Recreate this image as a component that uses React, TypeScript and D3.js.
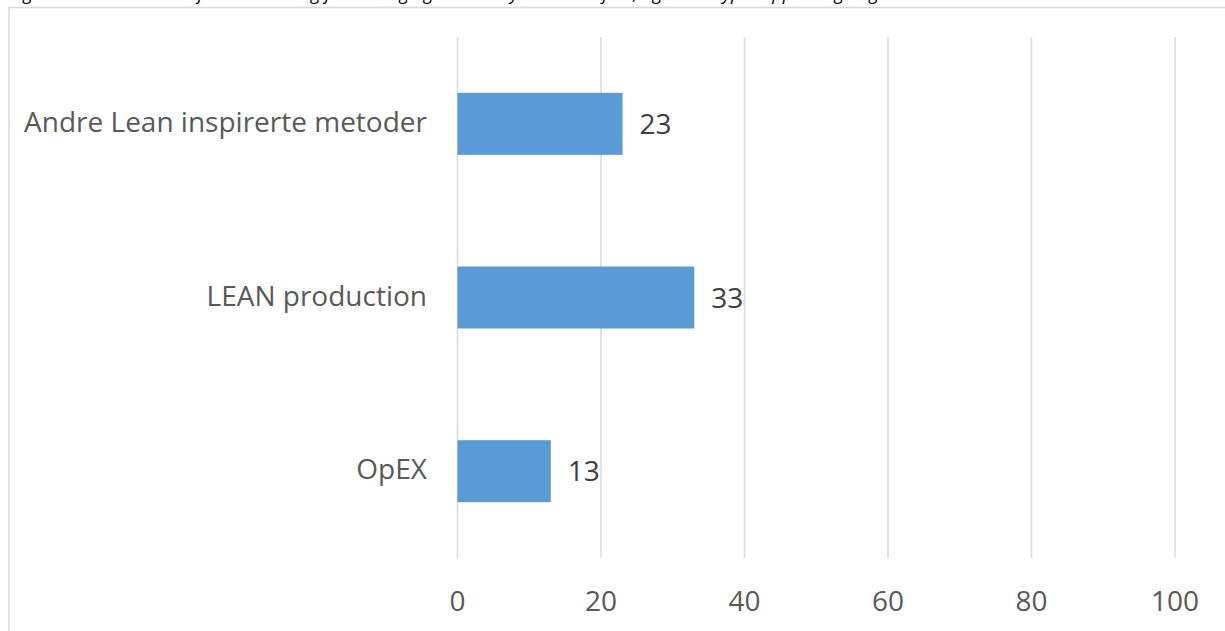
import React from 'react';
import * as d3 from 'd3';

// chart data
const categories = ['Andre Lean inspirerte metoder', 'LEAN production', 'OpEX'];
const values = [23, 33, 13];
const xTicks = [0, 20, 40, 60, 80, 100];
const caption = 'Figur 5: Hvilke metoder for kontinuerlig forbedring og Lean benyttes i bedriften, og hvilke typer opplæring er gitt';

const App = () => {
  const width = 1225;
  const height = 631;
  const margin = { top: 37, right: 50, bottom: 73, left: 457.5 };

  const x = d3.scaleLinear().domain([0, 100]).range([margin.left, width - margin.right]);
  const y = d3.scaleBand().domain(categories).range([margin.top, height - margin.bottom]).paddingInner(0.643).paddingOuter(0.3215);

  const font = '"Open Sans", "Noto Sans", sans-serif';
  const fs = 28;

  return (
    <svg width={width} height={height} style={{ position: 'absolute', left: 0, top: 0, background: '#fff' }}>
      {/* caption, cut off at the top like in the source */}
      <text x={10} y={-0.5} fontFamily={font} fontStyle="italic" fontSize={18} fill="#000">{caption}</text>

      {/* chart area border */}
      <rect x={9} y={7.5} width={width + 20} height={height + 20} fill="none" stroke="#d9d9d9" strokeWidth={1.5} />

      {/* gridlines */}
      {xTicks.map((t) => (
        <line key={t} x1={x(t)} x2={x(t)} y1={margin.top} y2={height - margin.bottom} stroke="#d9d9d9" strokeWidth={1.5} />
      ))}

      {/* bars */}
      {categories.map((c, i) => (
        <rect key={c} x={x(0)} y={y(c)} width={x(values[i]) - x(0)} height={y.bandwidth()} fill="#5b9bd5" />
      ))}

      {/* value labels */}
      {categories.map((c, i) => (
        <text key={c} x={x(values[i]) + 17} y={y(c)! + y.bandwidth() / 2} dy="0.36em" fontFamily={font} fontSize={fs} fill="#404040">
          {values[i]}
        </text>
      ))}

      {/* category labels */}
      {categories.map((c) => (
        <text key={c} x={427} y={y(c)! + y.bandwidth() / 2 - 2} dy="0.36em" textAnchor="end" fontFamily={font} fontSize={fs} fill="#595959">
          {c}
        </text>
      ))}

      {/* x tick labels */}
      {xTicks.map((t) => (
        <text key={t} x={x(t)} y={601} dy="0.36em" textAnchor="middle" fontFamily={font} fontSize={fs} fill="#595959">
          {t}
        </text>
      ))}
    </svg>
  );
};

export default App;
